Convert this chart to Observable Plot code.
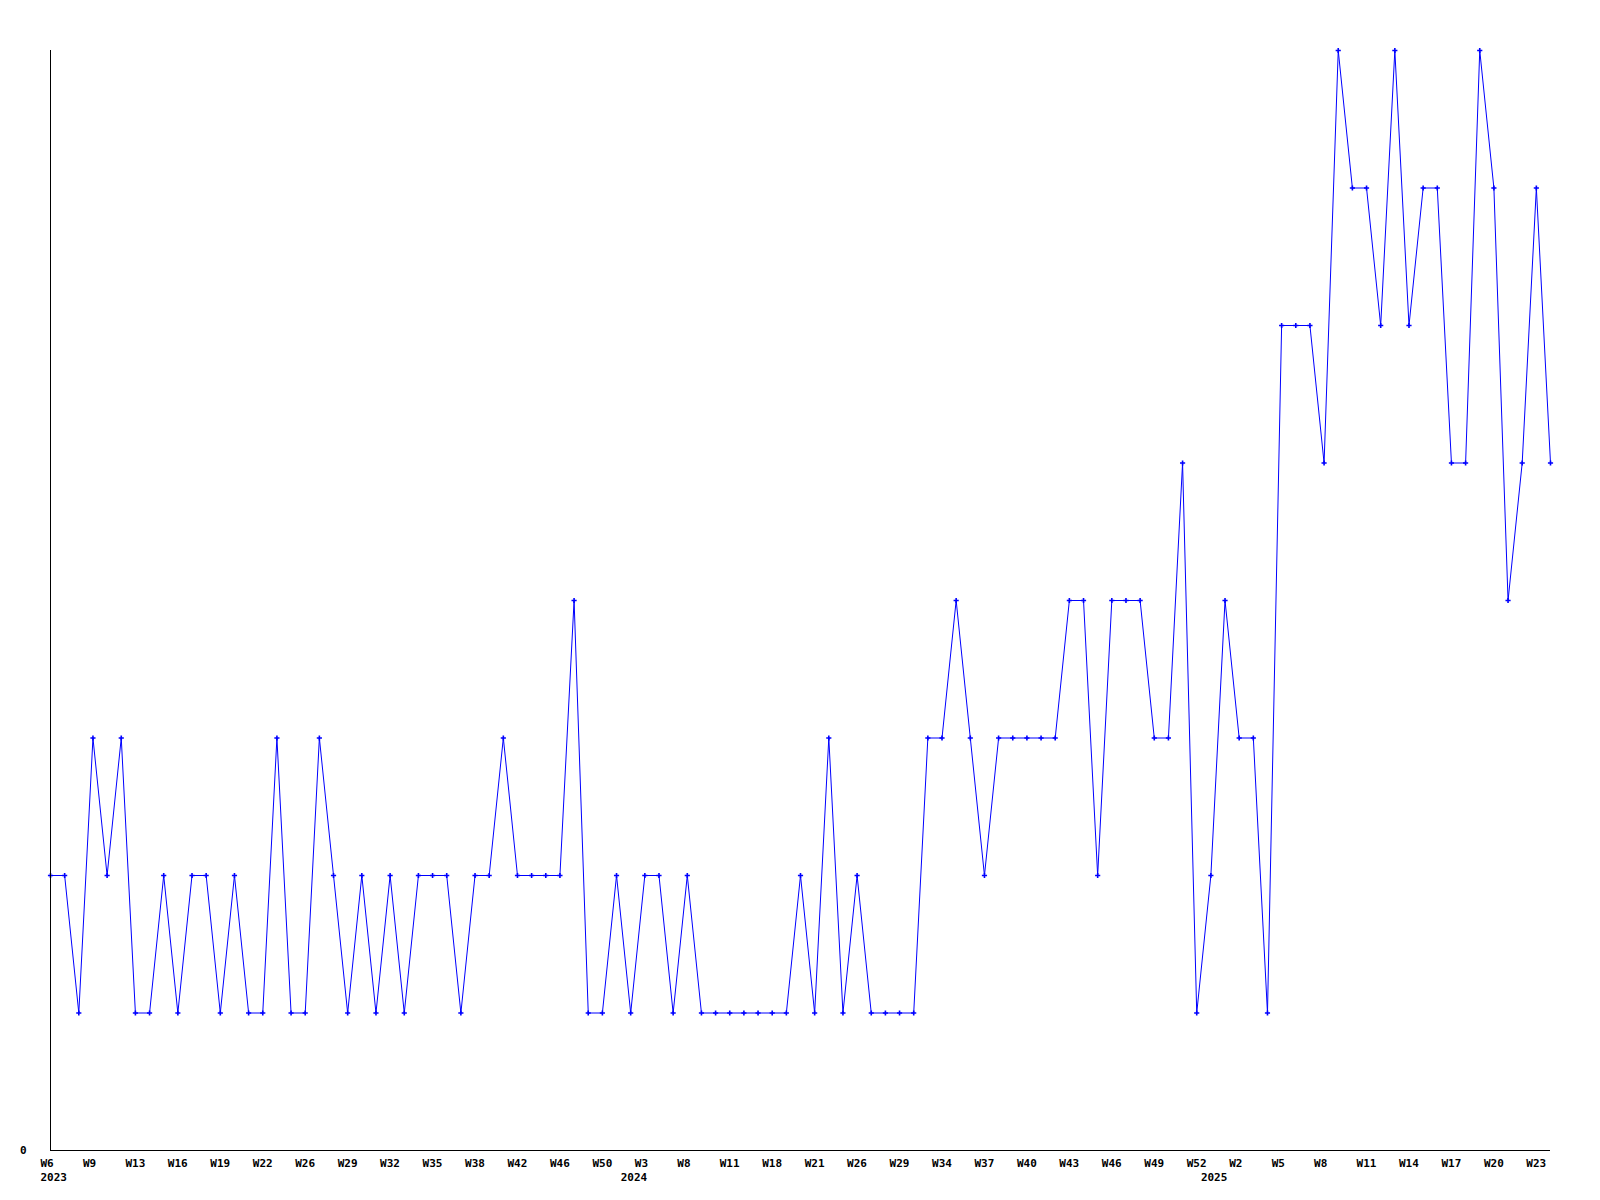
<!DOCTYPE html>
<html><head><meta charset="utf-8">
<script src="https://cdn.jsdelivr.net/npm/d3@7"></script>
<script src="https://cdn.jsdelivr.net/npm/@observablehq/plot@0.6"></script>
<style>body{margin:0;background:#fff}</style>
</head><body><div id="chart"></div>
<script>
// Weekly counts, one per plotted week (evenly spaced)
const values = [
  2,2,1,3,2,3,1,1,2,1, 2,2,1,2,1,1,3,1,1,3,
  2,1,2,1,2,1,2,2,2,1, 2,2,3,2,2,2,2,4,1,1,
  2,1,2,2,1,2,1,1,1,1, 1,1,1,2,1,3,1,2,1,1,
  1,1,3,3,4,3,2,3,3,3, 3,3,4,4,2,4,4,4,3,3,
  5,1,2,4,3,3,1,6,6,6, 5,8,7,7,6,8,6,7,7,5,
  5,8,7,4,5,7,5
];
// Tick labels: every third plotted week
const weekTicks = ["W6","W9","W13","W16","W19","W22","W26","W29","W32","W35","W38","W42",
  "W46","W50","W3","W8","W11","W18","W21","W26","W29","W34","W37","W40","W43","W46",
  "W49","W52","W2","W5","W8","W11","W14","W17","W20","W23"];
const years = ["2023","2024","2025"];
const yearStart = [0, 41, 82]; // index of first week of each year

const data = values.map((v, i) => ({i, v}));
const yearData = years.map((y, k) => ({year: y, at: yearStart[k]}));
const font = {fontFamily: "DejaVu Sans Mono", fontWeight: "bold", fontSize: 11, fill: "black"};

const chart = Plot.plot({
  width: 1600, height: 1200,
  marginTop: 50, marginRight: 50, marginBottom: 50, marginLeft: 50,
  style: {fontFamily: "DejaVu Sans Mono", background: "#fff"},
  x: {domain: [0, values.length - 1], axis: null},
  y: {domain: [0, 8], axis: null},
  marks: [
    Plot.line(data, {x: "i", y: "v", stroke: "#0000ff", strokeWidth: 1}),
    Plot.dot(data, {x: "i", y: "v", symbol: "plus", r: 1.8, stroke: "#0000ff", strokeWidth: 1.6}),
    Plot.ruleX([0], {stroke: "black", strokeWidth: 1}),
    Plot.ruleY([0], {stroke: "black", strokeWidth: 1}),
    Plot.axisX(d3.range(0, values.length, 3), {
      tickSize: 0, tickPadding: 9, textAnchor: "start", dx: -10,
      tickFormat: (i) => weekTicks[i / 3], label: null, ...font
    }),
    Plot.text(yearData, {x: "at", y: () => 0, text: "year", textAnchor: "start", dx: -10,
      dy: 23, lineAnchor: "top", ...font}),
    Plot.axisY([0], {tickSize: 0, tickPadding: 24, tickFormat: (d) => String(d), label: null, ...font})
  ]
});
document.getElementById("chart").appendChild(chart);
</script>
</body></html>
